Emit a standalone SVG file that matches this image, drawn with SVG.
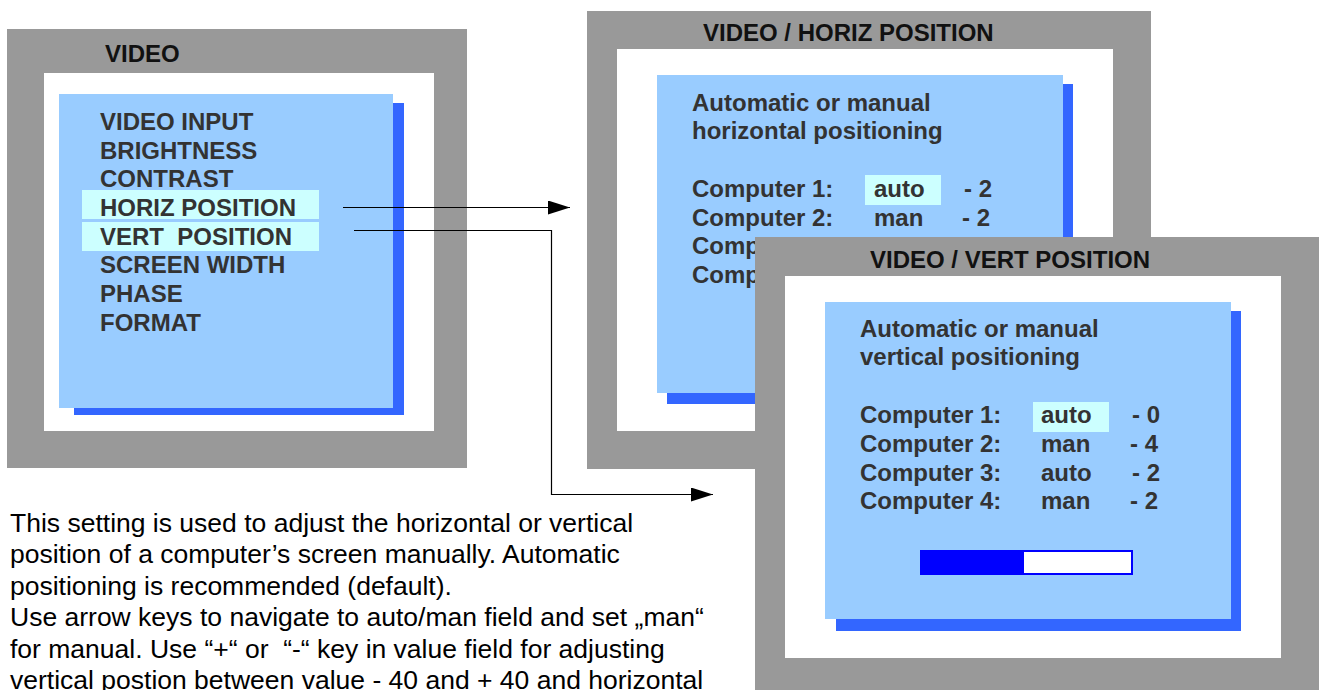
<svg xmlns="http://www.w3.org/2000/svg" width="1324" height="690" viewBox="0 0 1324 690">
  <defs>
    <style>
      .frame { fill: #999999; }
      .inner { fill: #ffffff; }
      .shadow { fill: #3366ff; }
      .panel { fill: #99ccff; }
      .hl { fill: #ccffff; }
      .title { font-family: "Liberation Sans", Arial, sans-serif; font-weight: bold; font-size: 24px; fill: #111111; }
      .menu { font-family: "Liberation Sans", Arial, sans-serif; font-weight: bold; font-size: 24px; fill: #333333; white-space: pre; }
      .txt { font-family: "Liberation Sans", Arial, sans-serif; font-weight: bold; font-size: 24px; fill: #333333; }
      .para { font-family: "Liberation Sans", Arial, sans-serif; font-size: 26.5px; fill: #000000; white-space: pre; }
      .conn { fill: none; stroke: #000000; stroke-width: 1.2; }
    </style>
    <marker id="arrow" markerUnits="userSpaceOnUse" markerWidth="22" markerHeight="14" refX="22" refY="7" orient="auto">
      <path d="M0,0 L22,7 L0,14 Z" fill="#000000"/>
    </marker>
  </defs>
  <rect width="1324" height="690" fill="#ffffff"/>

  <g id="video-menu">
    <rect class="frame" x="7" y="29" width="460" height="439"/>
    <rect class="inner" x="44" y="73" width="390" height="358"/>
    <rect class="shadow" x="74" y="103" width="330" height="312"/>
    <rect class="panel" x="59" y="94" width="334" height="314"/>
    <rect class="hl" x="82" y="190" width="237" height="29"/>
    <rect class="hl" x="82" y="222" width="237" height="29"/>
    <text class="title" x="105" y="62">VIDEO</text>
    <text class="menu" x="100" y="130">VIDEO INPUT</text>
    <text class="menu" x="100" y="158.7">BRIGHTNESS</text>
    <text class="menu" x="100" y="187.3">CONTRAST</text>
    <text class="menu" x="100" y="216">HORIZ POSITION</text>
    <text class="menu" x="100" y="244.7">VERT  POSITION</text>
    <text class="menu" x="100" y="273.3">SCREEN WIDTH</text>
    <text class="menu" x="100" y="302">PHASE</text>
    <text class="menu" x="100" y="330.7">FORMAT</text>
  </g>

  <g id="horiz-position">
    <rect class="frame" x="587" y="11" width="564" height="458"/>
    <rect class="inner" x="617" y="49" width="496" height="382"/>
    <rect class="shadow" x="667" y="84" width="406" height="320"/>
    <rect class="panel" x="657" y="75" width="406" height="318"/>
    <rect class="hl" x="865" y="175" width="76" height="30"/>
    <text class="title" x="703" y="40.7">VIDEO / HORIZ POSITION</text>
    <text class="txt" x="692" y="110.7">Automatic or manual</text>
    <text class="txt" x="692" y="139">horizontal positioning</text>
    <text class="txt" x="692" y="197.3">Computer 1:</text>
    <text class="txt" x="874" y="197.3">auto</text>
    <text class="txt" x="964" y="197.3">- 2</text>
    <text class="txt" x="692" y="225.7">Computer 2:</text>
    <text class="txt" x="874" y="225.7">man</text>
    <text class="txt" x="962" y="225.7">- 2</text>
    <text class="txt" x="692" y="254.3">Comp</text>
    <text class="txt" x="692" y="283">Comp</text>
  </g>

  <g id="vert-position">
    <rect class="frame" x="755" y="237" width="564" height="460"/>
    <rect class="inner" x="785" y="276" width="496" height="382"/>
    <rect class="shadow" x="836" y="311" width="405" height="320"/>
    <rect class="panel" x="825" y="302" width="406" height="317"/>
    <rect class="hl" x="1033" y="402" width="76" height="30"/>
    <text class="title" x="870" y="267.7">VIDEO / VERT POSITION</text>
    <text class="txt" x="860" y="336.7">Automatic or manual</text>
    <text class="txt" x="860" y="365.3">vertical positioning</text>
    <text class="txt" x="860" y="423.3">Computer 1:</text>
    <text class="txt" x="1041" y="423.3">auto</text>
    <text class="txt" x="1132" y="423.3">- 0</text>
    <text class="txt" x="860" y="452">Computer 2:</text>
    <text class="txt" x="1041" y="452">man</text>
    <text class="txt" x="1130" y="452">- 4</text>
    <text class="txt" x="860" y="480.7">Computer 3:</text>
    <text class="txt" x="1041" y="480.7">auto</text>
    <text class="txt" x="1132" y="480.7">- 2</text>
    <text class="txt" x="860" y="509.3">Computer 4:</text>
    <text class="txt" x="1041" y="509.3">man</text>
    <text class="txt" x="1130" y="509.3">- 2</text>
    <rect x="921" y="551" width="211" height="23" fill="#ffffff" stroke="#0000ff" stroke-width="2"/>
    <rect x="921" y="551" width="103" height="23" fill="#0000ff"/>
  </g>

  <g id="connectors">
    <path class="conn" d="M343,207.5 H570" marker-end="url(#arrow)"/>
    <path class="conn" d="M354,230.5 H551.5 V494.5 H713" marker-end="url(#arrow)"/>
  </g>

  <g id="description">
    <text class="para" x="10" y="532">This setting is used to adjust the horizontal or vertical</text>
    <text class="para" x="10" y="563.4">position of a computer’s screen manually. Automatic</text>
    <text class="para" x="10" y="594.8">positioning is recommended (default).</text>
    <text class="para" x="10" y="626.2">Use arrow keys to navigate to auto/man field and set „man“</text>
    <text class="para" x="10" y="657.6">for manual. Use “+“ or  “-“ key in value field for adjusting</text>
    <text class="para" x="10" y="689">vertical postion between value - 40 and + 40 and horizontal</text>
  </g>
</svg>
